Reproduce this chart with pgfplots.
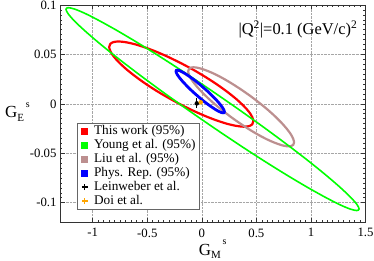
\documentclass[border=0pt]{standalone}
\usepackage{fontspec}
\setmainfont{Liberation Serif}
\usepackage{pgfplots}
\pgfplotsset{compat=1.18}
\definecolor{xgreen}{RGB}{0,255,0}
\definecolor{xbrown}{RGB}{188,143,143}
\definecolor{xorange}{RGB}{255,165,0}
\begin{document}
\begin{tikzpicture}
\begin{axis}[
  scale only axis, width=305.5bp, height=217.5bp,
  xmin=-1.3, xmax=1.5, ymin=-0.12, ymax=0.1,
  xtick={-1,-0.5,0,0.5,1,1.5}, ytick={-0.1,-0.05,0,0.05,0.1},
  minor x tick num=9, minor y tick num=9,
  tick align=inside, major tick length=4.5bp, minor tick length=2.3bp,
  grid=major, major grid style={densely dotted, black!35, line width=0.5bp},
  axis line style={line width=0.8bp, black!80},
  every tick/.style={black!80, line width=0.6bp},
  tick label style={font=\fontsize{12.8}{14}\selectfont},
  /pgf/number format/assume math mode=true,
  yticklabel style={/pgf/number format/fixed},
  xticklabel style={yshift=-2.5bp},
  scaled y ticks=false,
  every axis x label/.style={at={(axis description cs:0.5,0)}, anchor=base, yshift=-32.5bp},
  every axis y label/.style={at={(axis description cs:0,0)}, anchor=base west, xshift=-58.3bp, yshift=104.5bp},
  xlabel={\fontsize{17}{18}\selectfont G\raisebox{-0.4ex}{\fontsize{11}{11}\selectfont M}\raisebox{1.3ex}{\fontsize{10}{10}\selectfont\,s}},
  ylabel={\fontsize{17}{18}\selectfont G\raisebox{-0.5ex}{\fontsize{11}{11}\selectfont E}\raisebox{1.3ex}{\fontsize{10}{10}\selectfont\,s}},
  legend style={at={(axis cs:-1.144,-0.019)}, anchor=north west, draw=black!60, line width=0.8bp, fill=white,
    font=\fontsize{13.3}{14}\selectfont,
    nodes={font=\fontsize{13.3}{14}\selectfont, text height=9.5bp, text depth=3bp, inner ysep=0.75bp, inner xsep=2bp},
    inner xsep=2bp, inner ysep=1bp, row sep=0bp,
    /tikz/every odd column/.append style={column sep=3.7bp}},
  legend cell align=left,
]
\coordinate (sw) at (rel axis cs:0,0);
\coordinate (ne) at (rel axis cs:1,1);

% This work (red)
\addplot[forget plot, red, line width=2.2bp, smooth] coordinates {
(-0.1885,0.0410) (-0.0738,0.0342) (0.0374,0.0269) (0.1418,0.0194) (0.2361,0.0119) (0.3174,0.0047)
(0.3835,-0.0021) (0.4322,-0.0081) (0.4620,-0.0134) (0.4720,-0.0176) (0.4620,-0.0207) (0.4322,-0.0225)
(0.3835,-0.0231) (0.3174,-0.0223) (0.2361,-0.0203) (0.1418,-0.0170) (0.0374,-0.0126) (-0.0738,-0.0072)
(-0.1885,-0.0010) (-0.3032,0.0059) (-0.4144,0.0131) (-0.5188,0.0206) (-0.6131,0.0281) (-0.6944,0.0353)
(-0.7605,0.0421) (-0.8092,0.0481) (-0.8390,0.0534) (-0.8490,0.0576) (-0.8390,0.0607) (-0.8092,0.0625)
(-0.7605,0.0631) (-0.6944,0.0623) (-0.6131,0.0603) (-0.5188,0.0570) (-0.4144,0.0526) (-0.3032,0.0472)
(-0.1885,0.0410)};

% Liu et al. (brown)
\addplot[forget plot, xbrown, line width=2.2bp, smooth] coordinates {
(0.36,0.0145) (0.4442,0.0080) (0.5259,0.0011) (0.6025,-0.0058) (0.6718,-0.0127) (0.7315,-0.0193)
(0.7800,-0.0254) (0.8158,-0.0308) (0.8376,-0.0354) (0.845,-0.039) (0.8376,-0.0415) (0.8158,-0.0428)
(0.7800,-0.0429) (0.7315,-0.0418) (0.6718,-0.0395) (0.6025,-0.0362) (0.5259,-0.0318) (0.4442,-0.0265)
(0.36,-0.0205) (0.2758,-0.0140) (0.1941,-0.0071) (0.1175,-0.0002) (0.0482,0.0067) (-0.0115,0.0133)
(-0.0600,0.0194) (-0.0958,0.0248) (-0.1176,0.0294) (-0.125,0.033) (-0.1176,0.0355) (-0.0958,0.0368)
(-0.0600,0.0369) (-0.0115,0.0358) (0.0482,0.0335) (0.1175,0.0302) (0.1941,0.0258) (0.2758,0.0205)
(0.36,0.0145)};

% Young et al. (green)
\addplot[forget plot, xgreen, line width=1.6bp, smooth] coordinates {
(0.098,0.0127) (0.3311,-0.0051) (0.5573,-0.0229) (0.7695,-0.0402) (0.9613,-0.0564) (1.1267,-0.0711)
(1.2610,-0.0838) (1.3600,-0.0941) (1.4206,-0.1016) (1.4410,-0.1063) (1.4206,-0.1079) (1.3600,-0.1064)
(1.2610,-0.1018) (1.1267,-0.0942) (0.9613,-0.0840) (0.7695,-0.0714) (0.5573,-0.0568) (0.3311,-0.0406)
(0.098,-0.0233) (-0.1351,-0.0055) (-0.3613,0.0123) (-0.5735,0.0296) (-0.7653,0.0458) (-0.9307,0.0605)
(-1.0650,0.0732) (-1.1640,0.0834) (-1.2246,0.0910) (-1.245,0.0957) (-1.2246,0.0973) (-1.1640,0.0958)
(-1.0650,0.0912) (-0.9307,0.0836) (-0.7653,0.0734) (-0.5735,0.0608) (-0.3613,0.0462) (-0.1351,0.0300)
(0.098,0.0127)};

% Phys. Rep. (blue)
\addplot[forget plot, blue, line width=2.8bp, smooth] coordinates {
(-0.015,0.0193) (0.0235,0.0156) (0.0609,0.0119) (0.0960,0.0081) (0.1277,0.0045) (0.1551,0.0012)
(0.1773,-0.0019) (0.1936,-0.0044) (0.2036,-0.0065) (0.207,-0.008) (0.2036,-0.0089) (0.1936,-0.0091)
(0.1773,-0.0087) (0.1551,-0.0076) (0.1277,-0.0059) (0.0960,-0.0036) (0.0609,-0.0009) (0.0235,0.0022)
(-0.015,0.0057) (-0.0535,0.0094) (-0.0909,0.0131) (-0.1260,0.0169) (-0.1577,0.0205) (-0.1851,0.0238)
(-0.2073,0.0268) (-0.2236,0.0294) (-0.2336,0.0315) (-0.237,0.033) (-0.2336,0.0339) (-0.2236,0.0341)
(-0.2073,0.0337) (-0.1851,0.0326) (-0.1577,0.0309) (-0.1260,0.0286) (-0.0909,0.0259) (-0.0535,0.0228)
(-0.015,0.0193)};

% Leinweber et al.
\addplot[forget plot, black, only marks, mark=none, error bars/.cd, x dir=both, x explicit, y dir=both, y explicit,
  error mark=none, error bar style={line width=1bp, black}] coordinates {(-0.046,0.0005) +- (0.019,0.005)};
% Doi et al.
\addplot[forget plot, xorange, only marks, mark=none, error bars/.cd, x dir=both, x explicit, y dir=both, y explicit,
  error mark=none, error bar style={line width=1bp, xorange}] coordinates {(-0.010,0.0016) +- (0.017,0.0022)};

\addlegendimage{legend image code/.code={\path (0bp,0bp); \fill[red] (2bp,-3bp) rectangle (8bp,3bp);}}
\addlegendentry{This work (95\%)}
\addlegendimage{legend image code/.code={\path (0bp,0bp); \fill[xgreen] (2bp,-3bp) rectangle (8bp,3bp);}}
\addlegendentry{Young et al. (95\%)}
\addlegendimage{legend image code/.code={\path (0bp,0bp); \fill[xbrown] (2bp,-3bp) rectangle (8bp,3bp);}}
\addlegendentry{Liu et al. (95\%)}
\addlegendimage{legend image code/.code={\path (0bp,0bp); \fill[blue] (2bp,-3bp) rectangle (8bp,3bp);}}
\addlegendentry{Phys. Rep. (95\%)}
\addlegendimage{legend image code/.code={\path (0bp,0bp); \draw[black, line width=1.2bp] (5bp,-3bp)--(5bp,3bp) (2bp,0bp)--(8bp,0bp);}}
\addlegendentry{Leinweber et al.}
\addlegendimage{legend image code/.code={\path (0bp,0bp); \draw[xorange, line width=1.2bp] (5bp,-3bp)--(5bp,3bp) (2bp,0bp)--(8bp,0bp);}}
\addlegendentry{Doi et al.}

\node[anchor=base west, font=\fontsize{16.5}{18}\selectfont, inner sep=0pt] at (axis cs:0.3346,0.070)
  {|Q\textsuperscript{2}|=0.1 (GeV/c)\textsuperscript{2}};
\end{axis}
\pgfresetboundingbox
\path ([shift={(-60bp,-38.5bp)}]sw) rectangle ([shift={(8.5bp,5bp)}]ne);
\end{tikzpicture}
\end{document}
